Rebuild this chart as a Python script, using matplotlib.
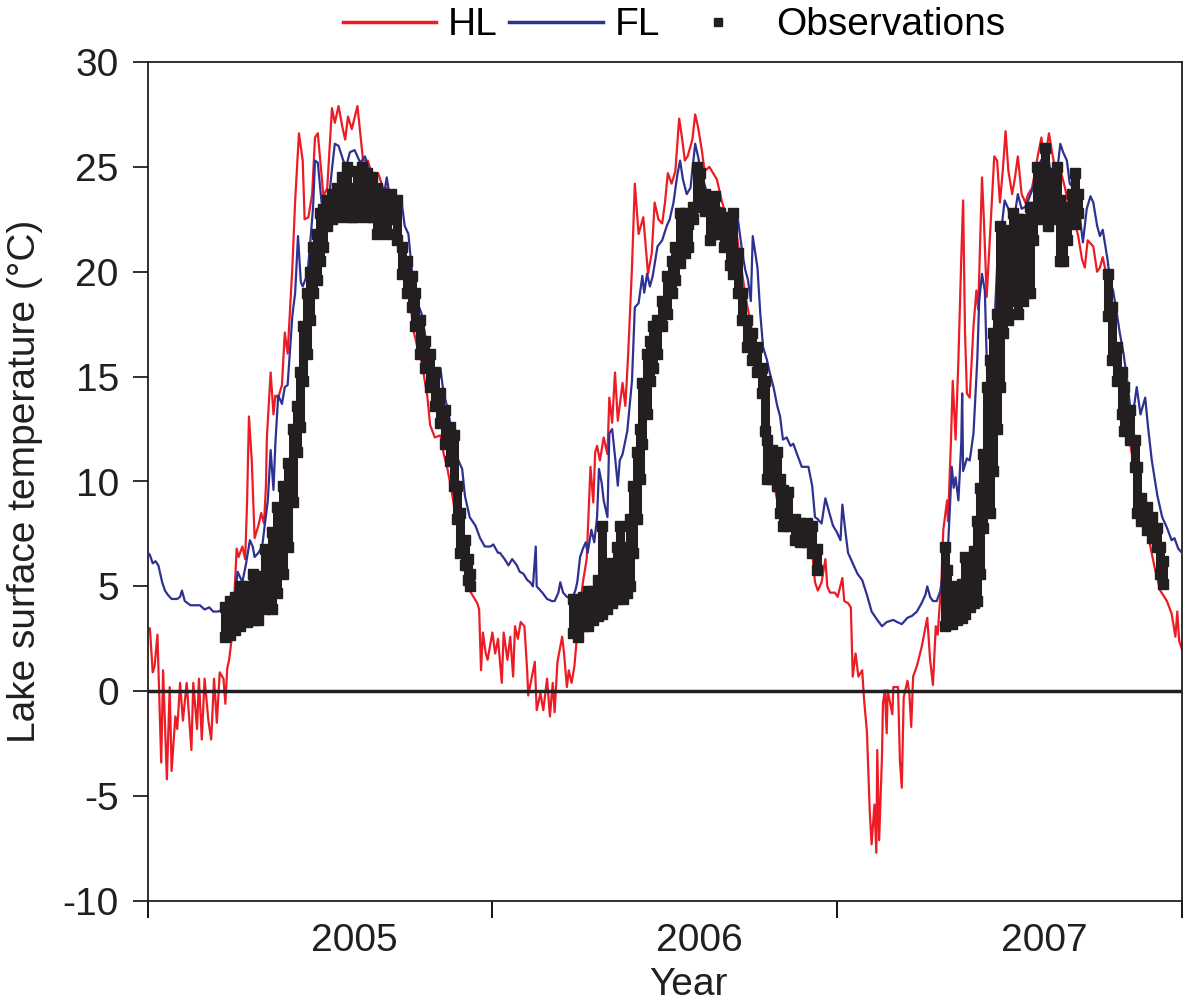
import matplotlib
matplotlib.use("Agg")
import matplotlib.pyplot as plt
from matplotlib.lines import Line2D

plt.rcParams['font.family'] = ['Liberation Sans', 'DejaVu Sans']
plt.rcParams['axes.unicode_minus'] = False

# days since 1 Jan 2005, temperature (degC)
hl_points = [
    (0, 3.0), (2, 3.0), (5, 0.9), (7, 1.2), (10, 2.7), (14, -3.4), (16, 1.0), (20, -4.2),
    (23, 0.2), (25, -3.8), (29, -1.2), (31, -1.8), (34, 0.4), (37, -1.4), (41, 0.4),
    (46, -2.8), (48, 0.4), (52, -1.8), (54, 0.6), (57, -2.3), (60, 0.6), (64, -1.4),
    (67, -2.3), (70, 0.6), (73, -1.5), (76, 0.9), (80, 0.6), (82, -0.6), (84, 1.1),
    (86, 1.5), (89, 2.6), (91, 4.1), (94, 6.8), (96, 6.4), (100, 6.9), (103, 6.3),
    (105, 9.0), (107, 13.1), (110, 11.0), (113, 7.3), (117, 7.9), (120, 8.5), (123, 8.0),
    (125, 9.8), (126, 12.1), (130, 15.2), (133, 13.2), (135, 14.1), (138, 14.0),
    (142, 14.6), (145, 17.1), (148, 16.1), (153, 20.2), (156, 23.4), (160, 26.6),
    (164, 25.3), (166, 22.5), (170, 22.6), (174, 23.7), (177, 26.4), (180, 26.6),
    (186, 23.6), (190, 24.0), (195, 27.8), (198, 27.1), (202, 27.9), (206, 26.9),
    (209, 26.3), (212, 27.4), (216, 26.8), (222, 27.9), (225, 26.6), (228, 25.3),
    (233, 25.3), (239, 24.4), (244, 24.7), (249, 24.0), (254, 24.0), (260, 23.4),
    (265, 22.7), (270, 21.1), (275, 19.9), (278, 18.6), (281, 17.3), (285, 16.5),
    (290, 15.7), (296, 14.1), (299, 12.7), (304, 12.1), (310, 12.2), (313, 11.4),
    (317, 10.7), (322, 9.5), (329, 7.5), (334, 6.0), (341, 4.8), (349, 4.2), (351, 3.9),
    (353, 1.0), (355, 2.8), (358, 1.8), (360, 1.5), (365, 2.8), (368, 1.8), (371, 2.5),
    (375, 0.4), (377, 2.8), (381, 1.5), (384, 2.6), (387, 0.7), (389, 3.1), (392, 2.5),
    (395, 3.3), (399, 3.1), (402, 0.9), (403, -0.2), (407, 0.7), (410, 1.4), (412, -0.9),
    (416, -0.1), (419, -0.9), (423, 0.6), (426, -1.2), (429, 0.4), (431, -1.0),
    (434, 1.4), (439, 2.6), (441, 1.8), (444, 0.2), (446, 1.0), (449, 0.4), (452, 1.2),
    (455, 2.8), (458, 4.1), (461, 5.2), (465, 6.3), (469, 10.7), (472, 9.0), (474, 11.4),
    (476, 11.7), (479, 11.0), (483, 12.1), (487, 11.3), (489, 14.0), (492, 12.8),
    (495, 15.2), (498, 12.9), (503, 14.7), (506, 13.6), (509, 16.1), (513, 20.2),
    (516, 24.2), (520, 21.8), (525, 22.6), (530, 19.9), (534, 20.9), (537, 23.3),
    (541, 22.5), (545, 22.3), (548, 23.3), (551, 24.7), (555, 24.2), (559, 24.8),
    (563, 27.3), (566, 26.4), (569, 25.3), (572, 25.5), (577, 26.3), (580, 27.5),
    (583, 26.9), (587, 25.8), (590, 24.8), (595, 25.0), (599, 24.7), (603, 24.4),
    (608, 23.4), (614, 22.5), (620, 22.3), (624, 21.8), (628, 20.5), (633, 18.9),
    (638, 17.7), (646, 15.7), (651, 14.1), (654, 11.7), (656, 10.6), (663, 9.9),
    (670, 8.5), (673, 7.9), (681, 8.2), (691, 7.9), (699, 8.2), (704, 6.6), (707, 5.2),
    (710, 4.8), (714, 5.2), (718, 6.3), (720, 5.0), (723, 4.7), (728, 4.7), (731, 4.5),
    (736, 5.4), (738, 4.3), (742, 4.2), (745, 4.0), (747, 0.7), (750, 1.8), (753, 0.7),
    (757, 1.0), (759, -0.4), (762, -1.9), (765, -5.7), (767, -7.3), (770, -5.4),
    (772, -7.7), (773, -2.8), (775, -7.1), (778, -3.1), (779, -0.6), (781, 0.05),
    (783, -2.0), (784, 0.05), (789, -1.1), (790, 0.2), (795, 0.2), (797, -3.3),
    (799, -4.6), (801, -0.3), (805, 0.5), (807, -0.1), (809, -1.7), (811, 0.7),
    (815, 1.2), (820, 2.1), (826, 3.5), (829, 1.5), (832, 0.3), (835, 3.1), (837, 2.7),
    (841, 5.3), (843, 7.7), (847, 9.1), (848, 8.1), (851, 11.8), (853, 14.8), (856, 12.0),
    (859, 15.8), (862, 20.6), (864, 23.4), (866, 17.1), (868, 14.2), (871, 14.0),
    (875, 17.4), (878, 19.1), (880, 18.2), (884, 24.5), (886, 22.5), (889, 18.8),
    (893, 22.2), (897, 25.5), (900, 25.3), (903, 23.3), (906, 24.8), (909, 26.7),
    (912, 24.8), (916, 23.7), (919, 24.5), (922, 25.5), (926, 23.7), (930, 23.3),
    (933, 23.7), (937, 24.0), (940, 24.7), (943, 25.5), (947, 26.4), (949, 25.7),
    (953, 26.0), (955, 26.6), (959, 25.5), (964, 24.4), (968, 24.7), (972, 24.0),
    (975, 23.3), (981, 22.6), (986, 21.7), (990, 20.6), (993, 20.2), (996, 21.5),
    (1002, 21.2), (1006, 20.0), (1009, 20.2), (1012, 20.7), (1017, 19.6), (1020, 17.7),
    (1025, 16.1), (1030, 14.8), (1034, 13.4), (1039, 12.3), (1044, 11.0), (1049, 8.9),
    (1057, 8.1), (1062, 7.0), (1067, 5.9), (1073, 4.8), (1080, 4.3), (1085, 3.7),
    (1089, 2.6), (1091, 3.8), (1093, 2.4), (1096, 2.0),
]

fl_points = [
    (0, 6.6), (2, 6.5), (5, 6.1), (8, 6.2), (11, 6.0), (15, 5.2), (18, 4.8), (21, 4.6),
    (25, 4.4), (31, 4.4), (34, 4.5), (36, 4.8), (39, 4.3), (45, 4.1), (50, 4.1),
    (55, 4.1), (60, 3.9), (65, 4.0), (69, 3.8), (74, 3.8), (80, 3.9), (84, 4.1),
    (89, 4.2), (92, 4.5), (95, 5.7), (100, 5.2), (104, 6.1), (108, 7.2), (111, 6.9),
    (113, 6.4), (117, 6.6), (121, 6.9), (124, 8.0), (127, 9.1), (130, 11.5), (133, 9.6),
    (135, 11.8), (138, 14.1), (142, 13.7), (145, 14.5), (148, 14.6), (153, 17.9),
    (156, 19.0), (159, 21.7), (162, 19.5), (164, 19.3), (169, 19.9), (172, 21.4),
    (175, 23.1), (177, 25.3), (180, 25.2), (184, 23.3), (188, 22.8), (191, 23.1),
    (195, 24.9), (198, 26.1), (202, 26.0), (207, 25.3), (210, 25.0), (214, 25.7),
    (219, 25.8), (225, 25.2), (230, 25.5), (235, 24.7), (241, 24.2), (246, 24.0),
    (251, 23.9), (253, 24.5), (258, 23.1), (262, 23.6), (269, 23.3), (272, 22.2),
    (276, 21.8), (280, 19.9), (285, 18.6), (290, 18.0), (296, 16.4), (301, 14.9),
    (306, 14.1), (310, 15.4), (313, 14.3), (318, 13.4), (323, 12.1), (329, 11.0),
    (333, 10.6), (336, 9.3), (341, 8.3), (347, 7.9), (352, 7.3), (357, 6.9), (363, 6.9),
    (366, 7.0), (371, 6.6), (373, 6.6), (378, 6.3), (382, 6.0), (386, 6.3), (391, 6.0),
    (394, 5.7), (398, 5.6), (402, 5.3), (405, 5.2), (408, 5.0), (411, 6.9), (412, 5.0),
    (418, 4.7), (423, 4.4), (428, 4.3), (431, 4.3), (435, 4.7), (437, 5.2), (440, 4.7),
    (444, 4.5), (449, 4.4), (453, 4.8), (455, 5.2), (458, 6.4), (461, 6.8), (464, 7.1),
    (466, 6.6), (470, 7.7), (473, 7.1), (476, 8.3), (478, 10.6), (481, 9.9), (483, 9.1),
    (487, 8.3), (489, 12.3), (492, 12.5), (495, 11.2), (498, 9.8), (500, 11.0),
    (503, 11.3), (508, 12.4), (513, 14.8), (516, 18.3), (520, 18.5), (524, 19.8),
    (526, 19.0), (529, 19.9), (532, 19.3), (535, 19.8), (540, 21.2), (545, 21.5),
    (550, 22.2), (553, 22.5), (557, 23.3), (561, 24.6), (564, 25.3), (567, 24.4),
    (571, 23.7), (575, 24.0), (580, 26.1), (583, 25.5), (587, 24.6), (593, 23.7),
    (598, 23.3), (604, 23.1), (610, 23.0), (615, 22.3), (620, 22.5), (625, 22.6),
    (630, 20.9), (633, 20.1), (636, 19.6), (639, 18.6), (641, 21.7), (646, 20.2),
    (649, 18.0), (652, 16.4), (656, 15.8), (659, 15.2), (663, 14.5), (667, 13.6),
    (670, 13.1), (673, 12.0), (677, 12.1), (681, 11.7), (684, 11.8), (688, 11.3),
    (693, 10.7), (700, 10.7), (704, 9.8), (707, 8.3), (710, 8.2), (714, 8.0), (718, 9.2),
    (721, 8.7), (726, 7.9), (730, 7.6), (734, 7.2), (736, 8.9), (739, 7.7), (742, 6.6),
    (746, 6.2), (752, 5.6), (757, 5.3), (762, 4.6), (767, 3.8), (773, 3.4), (778, 3.1),
    (783, 3.3), (790, 3.4), (794, 3.3), (799, 3.2), (805, 3.5), (810, 3.6), (815, 3.8),
    (820, 4.2), (824, 4.6), (826, 5.0), (829, 4.5), (832, 4.3), (836, 4.3), (840, 4.8),
    (843, 5.8), (847, 5.9), (849, 7.8), (852, 10.7), (854, 9.7), (856, 10.2), (859, 9.1),
    (862, 11.8), (863, 14.2), (864, 10.5), (868, 11.1), (871, 11.0), (875, 12.3),
    (879, 15.8), (881, 18.6), (884, 19.9), (887, 19.1), (890, 14.2), (895, 16.1),
    (898, 18.3), (901, 21.2), (905, 22.2), (908, 23.4), (912, 23.0), (916, 22.0),
    (919, 22.8), (922, 23.7), (926, 23.0), (930, 23.1), (933, 23.4), (938, 24.0),
    (943, 25.0), (949, 25.5), (954, 25.5), (958, 24.4), (964, 24.9), (967, 26.1),
    (970, 25.7), (974, 25.3), (977, 24.2), (983, 23.9), (988, 22.5), (991, 21.4),
    (995, 23.0), (999, 23.6), (1002, 23.3), (1006, 22.2), (1009, 21.7), (1012, 22.0),
    (1017, 20.6), (1020, 19.5), (1023, 19.1), (1027, 18.0), (1030, 17.1), (1034, 16.1),
    (1038, 14.8), (1041, 13.6), (1044, 13.2), (1048, 14.5), (1052, 13.2), (1057, 14.0),
    (1060, 12.6), (1064, 11.0), (1070, 9.3), (1075, 8.3), (1080, 7.8), (1085, 7.2),
    (1088, 7.3), (1092, 6.8), (1096, 6.6),
]

# observations: day, lowest and highest reading around that day
obs_points = [
    (82, 2.6, 4.0), (87, 2.7, 4.3), (92, 2.9, 4.5), (98, 3.1, 5.0), (105, 3.3, 5.0),
    (111, 3.4, 5.6), (117, 3.4, 5.5), (124, 3.9, 6.8), (131, 3.9, 7.6), (137, 4.7, 8.8),
    (143, 5.6, 9.8), (148, 6.9, 10.9), (154, 9.0, 12.5), (158, 11.4, 13.6),
    (161, 12.6, 15.2), (164, 14.8, 17.4), (169, 16.1, 19.0), (172, 17.7, 20.0),
    (175, 19.0, 21.2), (179, 19.6, 21.8), (182, 20.5, 22.8), (186, 21.2, 23.0),
    (190, 22.2, 23.4), (195, 22.5, 23.7), (200, 22.6, 24.0), (206, 22.8, 24.5),
    (211, 22.6, 25.0), (216, 22.6, 24.0), (222, 22.6, 24.8), (227, 23.1, 25.0),
    (232, 22.6, 24.7), (237, 22.6, 24.5), (243, 21.8, 24.0), (248, 22.0, 23.7),
    (253, 21.8, 23.2), (258, 22.5, 23.7), (264, 21.5, 23.4), (269, 19.9, 21.2),
    (274, 19.0, 20.5), (280, 18.3, 19.8), (283, 17.4, 19.0), (288, 16.1, 17.7),
    (294, 15.4, 16.7), (299, 14.5, 16.1), (304, 13.6, 15.2), (310, 12.8, 14.2),
    (315, 11.8, 13.4), (320, 11.0, 12.6), (324, 9.8, 12.2), (328, 8.2, 9.8),
    (331, 6.6, 8.5), (336, 6.0, 7.2), (339, 5.3, 6.3), (341, 5.0, 5.6),
    (451, 2.8, 4.4), (456, 2.6, 4.2), (461, 3.1, 4.5), (466, 3.1, 4.8), (472, 3.4, 4.8),
    (477, 3.6, 5.3), (481, 3.7, 7.9), (487, 3.9, 5.6), (492, 4.2, 6.1), (497, 4.4, 6.9),
    (500, 5.3, 7.9), (503, 4.4, 6.6), (508, 4.7, 6.9), (511, 5.0, 8.2), (514, 6.6, 9.8),
    (518, 8.2, 11.4), (522, 10.1, 12.5), (524, 11.8, 14.7), (529, 13.2, 16.1),
    (532, 14.8, 16.7), (535, 15.4, 17.4), (540, 16.1, 17.7), (545, 17.4, 18.6),
    (550, 18.0, 19.8), (555, 19.0, 20.5), (559, 19.6, 21.2), (564, 20.4, 22.8),
    (569, 20.9, 22.8), (572, 21.2, 22.3), (578, 22.5, 23.1), (582, 23.1, 25.0),
    (585, 23.4, 24.7), (590, 22.9, 23.7), (596, 21.5, 23.4), (601, 21.8, 23.6),
    (606, 21.8, 22.8), (611, 21.2, 22.6), (617, 20.3, 22.3), (620, 19.9, 22.8),
    (625, 19.0, 20.9), (630, 17.7, 19.0), (635, 16.4, 17.7), (640, 15.8, 17.1),
    (646, 15.2, 16.4), (651, 14.2, 15.4), (654, 12.4, 14.8), (656, 10.1, 12.0),
    (661, 10.1, 11.5), (667, 9.8, 11.4), (670, 8.5, 10.1), (673, 7.9, 9.6),
    (678, 7.9, 9.5), (686, 7.2, 8.2), (691, 7.1, 8.0), (699, 7.1, 8.0), (704, 6.6, 7.9),
    (709, 5.8, 6.8),
    (845, 3.1, 6.9), (847, 3.2, 5.8), (852, 3.2, 5.0), (857, 3.4, 4.6), (863, 3.5, 5.1),
    (866, 3.7, 6.4), (871, 4.0, 5.4), (875, 4.2, 6.7), (879, 4.3, 8.1), (882, 5.6, 9.7),
    (885, 7.8, 11.3), (889, 8.8, 14.5), (892, 8.5, 15.8), (896, 10.5, 17.1),
    (900, 12.5, 18.0), (903, 14.5, 22.2), (906, 17.1, 21.7), (912, 17.7, 22.0),
    (917, 18.6, 22.8), (922, 18.0, 22.5), (927, 18.6, 22.5), (932, 19.0, 21.7),
    (935, 19.0, 23.1), (938, 21.5, 23.1), (942, 22.5, 25.0), (947, 22.8, 24.5),
    (951, 22.6, 25.9), (954, 22.2, 24.7), (958, 22.8, 24.0), (964, 22.5, 25.0),
    (967, 20.5, 23.4), (970, 20.5, 22.2), (974, 21.5, 23.1), (979, 22.6, 23.7),
    (983, 22.3, 24.7), (986, 22.8, 23.7),
    (1018, 17.9, 19.9), (1022, 15.8, 18.3), (1027, 14.8, 16.4), (1032, 13.2, 15.2),
    (1035, 12.4, 14.5), (1041, 12.0, 13.4), (1046, 10.7, 12.0), (1048, 8.5, 10.7),
    (1053, 8.1, 9.2), (1059, 7.7, 8.8), (1064, 7.3, 8.3), (1070, 6.9, 7.8),
    (1073, 5.6, 6.9), (1076, 5.1, 6.2),
]

year_starts = [0, 365, 730, 1096]
year_label_pos = [219, 584, 950]
year_labels = ['2005', '2006', '2007']

hl_day, hl_temp = zip(*hl_points)
fl_day, fl_temp = zip(*fl_points)
obs_day, obs_low, obs_high = zip(*obs_points)

red = '#ed1c24'
blue = '#2e3192'
black = '#231f20'

fig = plt.figure(figsize=(11.85, 10.05), dpi=100)
ax = fig.add_axes([148 / 1185, 1 - 901 / 1005, 1034 / 1185, 839 / 1005])

ax.plot(hl_day, hl_temp, color=red, lw=1.6, zorder=2)
ax.plot(fl_day, fl_temp, color=blue, lw=1.6, zorder=3)
ax.vlines(obs_day, obs_low, obs_high, color=black, lw=6.5, zorder=4)
ax.plot(obs_day, obs_low, 's', color=black, ms=6.5, zorder=4)
ax.plot(obs_day, obs_high, 's', color=black, ms=6.5, zorder=4)
ax.axhline(0, color=black, lw=2.5, zorder=5)

ax.set_xlim(0, 1096)
ax.set_ylim(-10, 30)
ax.set_yticks(range(-10, 31, 5))
ax.set_xticks(year_starts)
ax.set_xticklabels([])
ax.set_xticks(year_label_pos, minor=True)
ax.set_xticklabels(year_labels, minor=True)

for s in ax.spines.values():
    s.set_linewidth(1.3)
    s.set_color(black)
ax.tick_params(axis='y', direction='out', length=11, width=1.3, pad=10,
               labelsize=28, colors=black)
ax.tick_params(axis='x', which='major', direction='out', length=12, width=1.3)
ax.tick_params(axis='x', which='minor', length=0, pad=16, labelsize=28,
               labelcolor=black)

ax.set_ylabel('Lake surface temperature (°C)', fontsize=28, color=black)
ax.yaxis.set_label_coords(-0.102, 0.5)
ax.set_xlabel('Year', fontsize=28, color=black)
ax.xaxis.set_label_coords(0.523, -0.079)

handles = [
    Line2D([], [], color=red, lw=2.5),
    Line2D([], [], color=blue, lw=2.5),
    Line2D([], [], ls='none', marker='s', color=black, ms=6),
]
fig.legend(handles, ['HL', 'FL', 'Observations'], loc='upper center',
           bbox_to_anchor=(0.569, 1.012), ncol=3, frameon=False, fontsize=28,
           handlelength=2.4, handletextpad=0.3, columnspacing=0.3, borderpad=0)

fig.savefig('out.png', dpi=100)
